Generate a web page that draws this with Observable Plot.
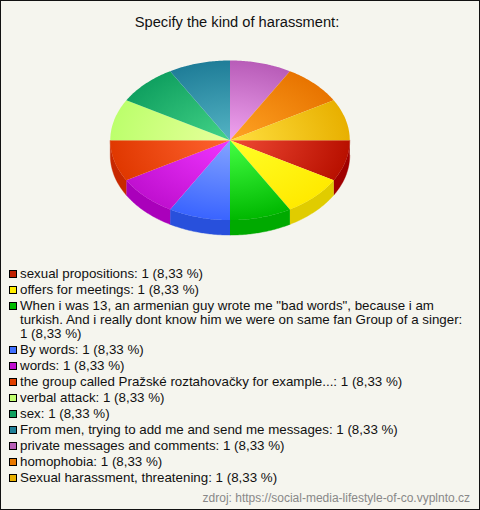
<!DOCTYPE html>
<html>
<head>
<meta charset="utf-8">
<script src="https://cdn.jsdelivr.net/npm/d3@7"></script>
<script src="https://cdn.jsdelivr.net/npm/@observablehq/plot@0.6"></script>
<style>
html,body{margin:0;padding:0;background:#f5f5ee}
#box{box-sizing:border-box;position:relative;width:480px;height:510px;border:1px solid #111;background:#f5f5ee;font-family:"Liberation Sans",Arial,sans-serif;color:#111;overflow:hidden}
#title{position:absolute;left:0;top:13px;width:472px;text-align:center;font-size:14.67px;line-height:16px}
#chart{position:absolute;left:-1px;top:39px}
#chart svg{background:transparent;display:block}
#legend{position:absolute;left:8px;top:265px;width:458px;font-size:13.33px;line-height:14px}
.it{position:relative;padding:1px 0 1px 11px}
.sw{position:absolute;left:0;top:4px;width:6px;height:6px;border:1px solid #000}
#src{position:absolute;right:9px;top:490px;font-size:12px;line-height:14px;color:#888}
</style>
</head>
<body>
<div id="box">
<div id="title"></div>
<div id="chart"></div>
<div id="legend"></div>
<div id="src"></div>
</div>
<script>
const titleText = "Specify the kind of harassment:";
const sourceText = "zdroj: https://social-media-lifestyle-of-co.vyplnto.cz";
const categories = [
  "sexual propositions",
  "offers for meetings",
  "When i was 13, an armenian guy wrote me \"bad words\", because i am turkish. And i really dont know him we were on same fan Group of a singer",
  "By words",
  "words",
  "the group called Pražské roztahovačky for example...",
  "verbal attack",
  "sex",
  "From men, trying to add me and send me messages",
  "private messages and comments",
  "homophobia",
  "Sexual harassment, threatening"
];
const counts = [1,1,1,1,1,1,1,1,1,1,1,1];
const percents = ["8,33","8,33","8,33","8,33","8,33","8,33","8,33","8,33","8,33","8,33","8,33","8,33"];
const innerColors = ["#f04a35","#ffff28","#44ff44","#84a4ff","#f035ff","#ff6430","#e8ff9c","#44d488","#54b4c4","#f0a4f0","#ffa424","#ffe040"];
const rimColors = ["#b81000","#ffea00","#00b800","#3a64ff","#c010d0","#e03800","#bcff6c","#10a060","#1f7d98","#b85cb8","#e87400","#e8b000"];
const sideColors = ["#a00000","#e0cc00","#00aa00","#2850dc","#aa00bb","#c82800","#88cc50","#0a7a48","#185f78","#8c448c","#b05800","#b08800"];
const legendColors = ["#c02000","#ffee00","#00bb00","#4070ff","#c010d0","#e04000","#c0ff70","#10a060","#208099","#b860b8","#e87800","#e8b000"];
const depth = 0.1875;

document.getElementById("title").textContent = titleText;
document.getElementById("src").textContent = sourceText;

const total = d3.sum(counts);
let cum = 0;
const slices = counts.map((v,i) => { const a0 = cum/total*2*Math.PI; cum += v; return {i, a0, a1: cum/total*2*Math.PI}; });
const arc = (a0,a1,dy) => d3.range(0,41).map(k => { const a = a0+(a1-a0)*k/40; return {x:Math.cos(a), y:Math.sin(a)+dy}; });

const defsMark = (index, scales) => {
  const defs = d3.create("svg:defs");
  const cx = scales.x(0), cy = scales.y(0), rx = scales.x(1)-cx, ry = scales.y(1)-cy;
  slices.forEach(s => {
    const g = defs.append("radialGradient").attr("id","g"+s.i).attr("gradientUnits","userSpaceOnUse")
      .attr("cx",0).attr("cy",0).attr("r",1)
      .attr("gradientTransform",`translate(${cx},${cy}) scale(${rx},${ry})`);
    g.append("stop").attr("offset","0").attr("stop-color",innerColors[s.i]);
    g.append("stop").attr("offset","1").attr("stop-color",rimColors[s.i]);
  });
  return defs.node();
};

const sideMarks = slices.filter(s => s.a0 < Math.PI - 1e-6).map(s => {
  const pts = [...arc(s.a0,s.a1,0), ...arc(s.a1,s.a0,depth)];
  return Plot.line(pts,{x:"x",y:"y",fill:sideColors[s.i],stroke:sideColors[s.i],strokeWidth:0.4});
});
const topMarks = slices.map(s => {
  const pts = [{x:0,y:0}, ...arc(s.a0,s.a1,0), {x:0,y:0}];
  return Plot.line(pts,{x:"x",y:"y",fill:`url(#g${s.i})`,stroke:"none"});
});

const plot = Plot.plot({
  width:480, height:205, margin:0,
  x:{domain:[-1,1],range:[110,350],axis:null},
  y:{domain:[-1,1],range:[20,180],axis:null},
  marks:[defsMark, ...sideMarks, ...topMarks]
});
document.getElementById("chart").append(plot);

const legend = d3.select("#legend");
categories.forEach((c,i) => {
  const it = legend.append("div").attr("class","it");
  it.append("span").attr("class","sw").style("background",legendColors[i]);
  it.append("span").text(`${c}: ${counts[i]} (${percents[i]} %)`);
});
</script>
</body>
</html>
